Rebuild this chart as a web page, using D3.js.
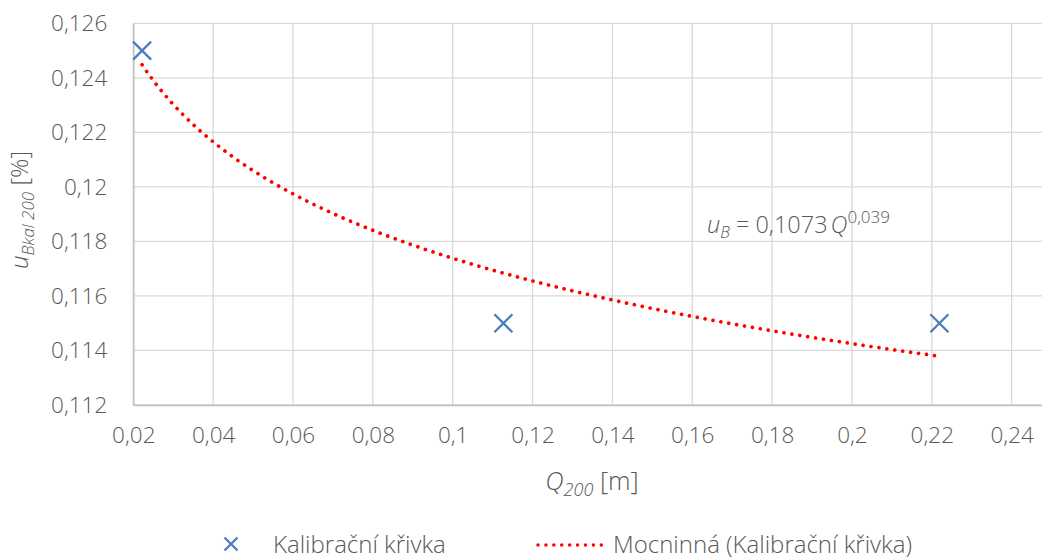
<!DOCTYPE html>
<html>
<head>
<meta charset="utf-8">
<script src="https://cdn.jsdelivr.net/npm/d3@7"></script>
<style>
  html, body { margin: 0; padding: 0; background: #fff; }
  svg { display: block; font-family: "Open Sans", sans-serif; font-weight: 300; }
</style>
</head>
<body>
<svg id="chart" width="1042" height="560"></svg>
<script>
// Calibration measurements
const flowQ = [0.0222, 0.1127, 0.2219];
const uncertainty = [0.125, 0.115, 0.115];

// Power trendline u = a * Q^b
const powerCoef = 0.1073;
const powerExp = -0.039;

const xTicks = [0.02, 0.04, 0.06, 0.08, 0.10, 0.12, 0.14, 0.16, 0.18, 0.20, 0.22, 0.24];
const yTicks = [0.112, 0.114, 0.116, 0.118, 0.120, 0.122, 0.124, 0.126];

const seriesName = "Kalibrační křivka";
const trendName = "Mocninná (Kalibrační křivka)";

const textColor = "#595959";
const gridColor = "#d9d9d9";
const markerColor = "#4a7ebb";
const trendColor = "#ff0000";

const svg = d3.select("#chart");

const x = d3.scaleLinear().domain([0.02, 0.25]).range([133.3, 133.3 + 11.5 * 79.85]);
const y = d3.scaleLinear().domain([0.112, 0.126]).range([405, 23.3]);

const fmt = d => d3.format("")(+d.toFixed(3)).replace(".", ",");

// Grid
svg.append("g").selectAll("line.v").data(xTicks).join("line")
  .attr("x1", d => x(d)).attr("x2", d => x(d))
  .attr("y1", y(0.126)).attr("y2", y(0.112))
  .attr("stroke", gridColor).attr("stroke-width", 1.3);
svg.append("g").selectAll("line.h").data(yTicks).join("line")
  .attr("x1", x(0.02)).attr("x2", 1042)
  .attr("y1", d => y(d)).attr("y2", d => y(d))
  .attr("stroke", gridColor).attr("stroke-width", 1.3);

// Axes (lines only, labels below)
const xAxis = svg.append("g").attr("transform", `translate(0,${y(0.112)})`)
  .call(d3.axisBottom(x).tickValues(xTicks).tickSize(0).tickPadding(22).tickFormat(fmt));
xAxis.select(".domain").attr("stroke", "#bfbfbf").attr("stroke-width", 1.5);
xAxis.selectAll("text").attr("fill", textColor).attr("font-size", 22.5)
  .attr("font-family", "Open Sans").attr("font-weight", 300);

const yAxis = svg.append("g").attr("transform", `translate(${x(0.02)},0)`)
  .call(d3.axisLeft(y).tickValues(yTicks).tickSize(0).tickPadding(26).tickFormat(fmt));
yAxis.select(".domain").attr("stroke", "#bfbfbf").attr("stroke-width", 1.5);
yAxis.selectAll("text").attr("fill", textColor).attr("font-size", 22.5)
  .attr("font-family", "Open Sans").attr("font-weight", 300);

// Power trendline across the measured range
const qMin = d3.min(flowQ), qMax = d3.max(flowQ);
const trendPts = d3.range(0, 201).map(i => {
  const q = qMin + (qMax - qMin) * i / 200;
  return [q, powerCoef * Math.pow(q, powerExp)];
});
svg.append("path")
  .attr("d", d3.line().x(d => x(d[0])).y(d => y(d[1]))(trendPts))
  .attr("fill", "none").attr("stroke", trendColor)
  .attr("stroke-width", 3.7).attr("stroke-linecap", "round")
  .attr("stroke-dasharray", "0.01 8");

// Markers
const xMark = (g, s) => g.append("path")
  .attr("d", `M${-s},${-s}L${s},${s}M${-s},${s}L${s},${-s}`)
  .attr("stroke", markerColor).attr("stroke-width", 2.3).attr("fill", "none");
flowQ.forEach((q, i) => {
  const g = svg.append("g").attr("transform", `translate(${x(q)},${y(uncertainty[i])})`);
  xMark(g, 9);
});

// Equation label
const eq = svg.append("text").attr("x", 707).attr("y", 233)
  .attr("fill", textColor).attr("font-size", 23.5);
eq.append("tspan").attr("font-style", "italic").text("u");
eq.append("tspan").attr("font-style", "italic").attr("font-size", 16).attr("dy", 5).text("B");
eq.append("tspan").attr("dy", -5).text(" = 0,1073");
eq.append("tspan").attr("font-style", "italic").attr("dx", 3).text("Q");
eq.append("tspan").attr("font-size", 17).attr("dy", -10).text("0,039");

// X axis title
const xt = svg.append("text").attr("x", 592).attr("y", 490).attr("text-anchor", "middle")
  .attr("fill", textColor).attr("font-size", 25.5);
xt.append("tspan").attr("font-style", "italic").text("Q");
xt.append("tspan").attr("font-style", "italic").attr("font-size", 18).attr("dy", 6).text("200");
xt.append("tspan").attr("dy", -6).text(" [m]");

// Y axis title
const yt = svg.append("text").attr("transform", "translate(28,210) rotate(-90)")
  .attr("text-anchor", "middle").attr("fill", textColor).attr("font-size", 24);
yt.append("tspan").attr("font-style", "italic").text("u");
yt.append("tspan").attr("font-style", "italic").attr("font-size", 17).attr("dy", 6).text("Bkal 200");
yt.append("tspan").attr("dy", -6).text(" [%]");

// Legend
const lg = svg.append("g");
xMark(lg.append("g").attr("transform", "translate(231,544)"), 6.5);
lg.append("text").attr("x", 273).attr("y", 553).attr("fill", textColor)
  .attr("font-size", 24).text(seriesName);
lg.append("line").attr("x1", 538).attr("x2", 602).attr("y1", 545).attr("y2", 545)
  .attr("stroke", trendColor).attr("stroke-width", 3.5).attr("stroke-linecap", "round")
  .attr("stroke-dasharray", "0.01 7.9");
lg.append("text").attr("x", 613).attr("y", 553).attr("fill", textColor)
  .attr("font-size", 24).text(trendName);
</script>
</body>
</html>
